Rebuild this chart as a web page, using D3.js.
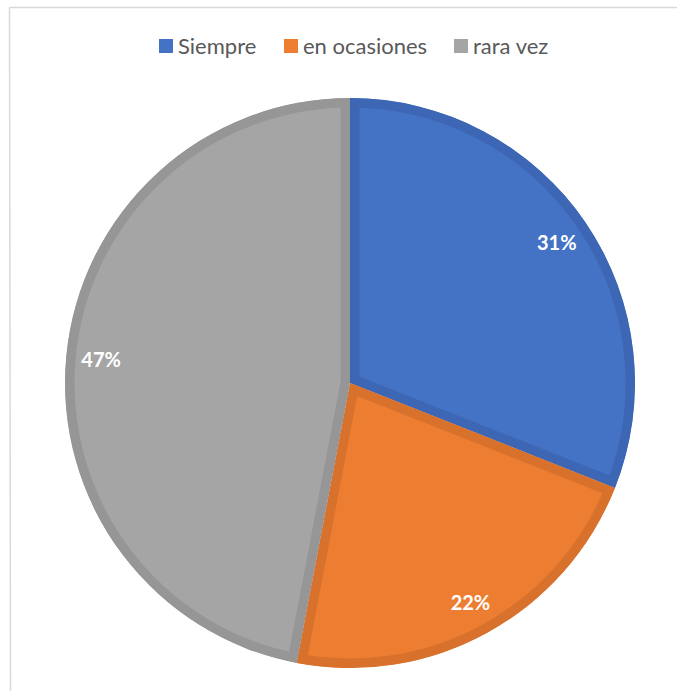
<!DOCTYPE html>
<html>
<head>
<meta charset="utf-8">
<script src="https://cdn.jsdelivr.net/npm/d3@7"></script>
<style>
  body { margin: 0; background: #fff; }
  svg { display: block; }
</style>
</head>
<body>
<div class="svg-container"></div>
<script>
const categories = ['Siempre', 'en ocasiones', 'rara vez'];
const values = [31, 22, 47];
const fills = ['#4472C4', '#ED7D31', '#A5A5A5'];
const borders = ['#3D67B4', '#D8712C', '#969696'];

const outerWidth = 677;
const outerHeight = 691;
const cx = 350;
const cy = 383;
const radius = 285;

const svg = d3.select('.svg-container')
.append('svg')
.attr('width', outerWidth)
.attr('height', outerHeight);

// chart frame (only top + left visible in the crop)
svg.append('line')
.attr('x1', 9.5).attr('y1', 7.5).attr('x2', outerWidth).attr('y2', 7.5)
.attr('stroke', '#D9D9D9').attr('stroke-width', 1.5);
svg.append('line')
.attr('x1', 9.5).attr('y1', 7.5).attr('x2', 10.5).attr('y2', outerHeight)
.attr('stroke', '#D9D9D9').attr('stroke-width', 1.5);

const data = categories.map((c, i) => ({ name: c, value: values[i], i }));

const pie = d3.pie().sort(null).value(d => d.value);
const arcs = pie(data);

const arc = d3.arc().innerRadius(0).outerRadius(radius);
const labelArc = d3.arc().innerRadius(250).outerRadius(250);

const defs = svg.append('defs');
const g = svg.append('g').attr('transform', `translate(${cx}, ${cy})`);

arcs.forEach((a, i) => {
  defs.append('clipPath')
  .attr('id', `clip-${i}`)
  .append('path')
  .attr('d', arc(a));

  g.append('path')
  .attr('d', arc(a))
  .attr('fill', fills[i])
  .attr('stroke', borders[i])
  .attr('stroke-width', 19)
  .attr('stroke-linejoin', 'miter')
  .attr('clip-path', `url(#clip-${i})`);
});

g.selectAll('text.pct')
.data(arcs)
.enter()
.append('text')
.attr('class', 'pct')
.attr('x', d => labelArc.centroid(d)[0])
.attr('y', d => labelArc.centroid(d)[1])
.attr('text-anchor', 'middle')
.attr('dominant-baseline', 'central')
.style('font-family', 'Lato, "Open Sans", sans-serif')
.style('font-weight', 'bold')
.style('font-size', '20px')
.attr('fill', '#fff')
.text(d => `${d.data.value}%`);

// legend
const legendX = [159, 284, 454];
const legend = svg.append('g').attr('id', 'legend');
categories.forEach((c, i) => {
  const item = legend.append('g').attr('transform', `translate(${legendX[i]}, 39)`);
  item.append('rect')
  .attr('width', 14)
  .attr('height', 14)
  .attr('fill', fills[i]);
  item.append('text')
  .attr('x', 19)
  .attr('y', 14.5)
  .style('font-family', 'Lato, "Open Sans", sans-serif')
  .style('font-size', '22px')
  .attr('fill', '#595959')
  .text(c);
});
</script>
</body>
</html>
